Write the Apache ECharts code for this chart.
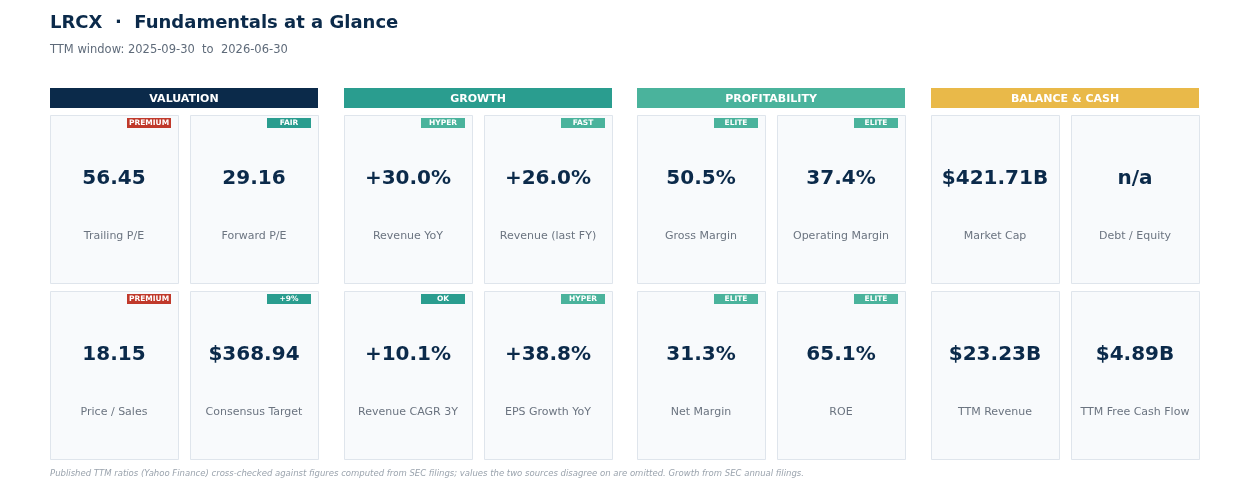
<!DOCTYPE html>
<html>
<head>
<meta charset="utf-8">
<script src="https://cdn.jsdelivr.net/npm/echarts@6/dist/echarts.min.js"></script>
<style>html,body{margin:0;background:#fff}#main{width:1249px;height:489px}</style>
</head>
<body>
<div id="main"></div>
<script>
var groups = ['VALUATION', 'GROWTH', 'PROFITABILITY', 'BALANCE & CASH'];
var groupColors = ['#0b2a4a', '#2a9d8f', '#4ab39c', '#e9b949'];
// per group: [row1 left, row1 right, row2 left, row2 right]
var values = [
	['56.45', '29.16', '18.15', '$368.94'],
	['+30.0%', '+26.0%', '+10.1%', '+38.8%'],
	['50.5%', '37.4%', '31.3%', '65.1%'],
	['$421.71B', 'n/a', '$23.23B', '$4.89B']
];
var labels = [
	['Trailing P/E', 'Forward P/E', 'Price / Sales', 'Consensus Target'],
	['Revenue YoY', 'Revenue (last FY)', 'Revenue CAGR 3Y', 'EPS Growth YoY'],
	['Gross Margin', 'Operating Margin', 'Net Margin', 'ROE'],
	['Market Cap', 'Debt / Equity', 'TTM Revenue', 'TTM Free Cash Flow']
];
var badges = [
	['PREMIUM', 'FAIR', 'PREMIUM', '+9%'],
	['HYPER', 'FAST', 'OK', 'HYPER'],
	['ELITE', 'ELITE', 'ELITE', 'ELITE'],
	['', '', '', '']
];
var badgeColors = {PREMIUM: '#c0392b', FAIR: '#2a9d8f', '+9%': '#2a9d8f', OK: '#2a9d8f', HYPER: '#4ab39c', FAST: '#4ab39c', ELITE: '#4ab39c'};

var font = 'DejaVu Sans';
var els = [];
els.push({type: 'text', left: 50, top: 14, style: {text: 'LRCX  ·  Fundamentals at a Glance', font: 'bold 18px ' + font, fill: '#0b2a4a'}});
els.push({type: 'text', left: 50, top: 44, style: {text: 'TTM window: 2025-09-30  to  2026-06-30', font: '11.5px ' + font, fill: '#5f6b7a'}});
els.push({type: 'text', left: 50, top: 469, style: {text: 'Published TTM ratios (Yahoo Finance) cross-checked against figures computed from SEC filings; values the two sources disagree on are omitted. Growth from SEC annual filings.', font: 'italic 8.5px ' + font, fill: '#9aa3ad'}});

for (var g = 0; g < groups.length; g++) {
	var gx = Math.round(50 + g * 293.7);
	els.push({type: 'rect', shape: {x: gx, y: 88, width: 268, height: 20}, style: {fill: groupColors[g]}});
	els.push({type: 'text', x: gx + 134, y: 99, style: {text: groups[g], font: 'bold 11px ' + font, fill: '#fff', align: 'center', verticalAlign: 'middle'}});
	for (var i = 0; i < 4; i++) {
		var cx = gx + (i % 2) * 140;
		var cy = i < 2 ? 115 : 291;
		els.push({type: 'rect', shape: {x: cx + 0.5, y: cy + 0.5, width: 128, height: 168}, style: {fill: '#f8fafc', stroke: '#dfe5ec', lineWidth: 1}});
		els.push({type: 'text', x: cx + 64, y: cy + 64, style: {text: values[g][i], font: 'bold 20px ' + font, fill: '#0b2a4a', align: 'center', verticalAlign: 'middle'}});
		els.push({type: 'text', x: cx + 64, y: cy + 121, style: {text: labels[g][i], font: '11px ' + font, fill: '#6b7480', align: 'center', verticalAlign: 'middle'}});
		var b = badges[g][i];
		if (b) {
			els.push({type: 'rect', shape: {x: cx + 77, y: cy + 3, width: 44, height: 10}, style: {fill: badgeColors[b]}});
			els.push({type: 'text', x: cx + 99, y: cy + 8, style: {text: b, font: 'bold 7.5px ' + font, fill: '#fff', align: 'center', verticalAlign: 'middle'}});
		}
	}
}

var chart = echarts.init(document.getElementById('main'));
chart.setOption({animation: false, graphic: {elements: els}});
</script>
</body>
</html>
